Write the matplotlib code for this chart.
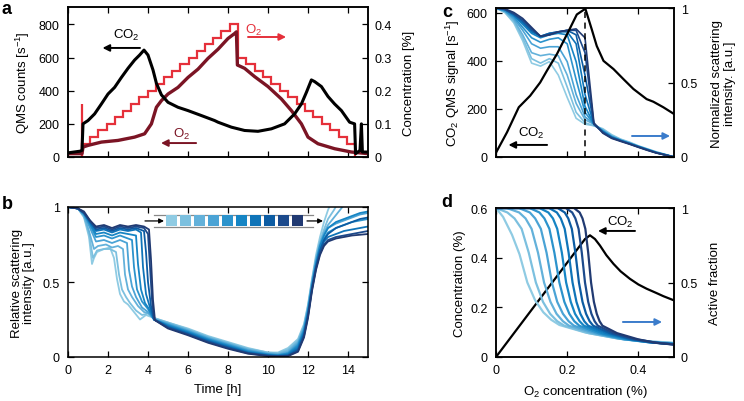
import matplotlib
matplotlib.use('Agg')
import matplotlib.pyplot as plt
from matplotlib.patches import Rectangle

plt.rcParams['font.family'] = ['Liberation Sans', 'DejaVu Sans']
plt.rcParams['mathtext.fontset'] = 'custom'
plt.rcParams['mathtext.rm'] = 'Liberation Sans'
plt.rcParams['mathtext.it'] = 'Liberation Sans:italic'
plt.rcParams['mathtext.bf'] = 'Liberation Sans:bold'
plt.rcParams['font.size'] = 9

# ---------------- data: panel a ----------------
t_co2 = [0, 0.3, 0.6, 0.7, 0.75, 1.0, 1.33, 1.67, 2.0, 2.33, 2.67, 3.0, 3.33, 3.58, 3.8, 4.0, 4.25,
         4.42, 4.67, 5.0, 5.5, 6.0, 6.67, 7.33, 7.5, 8.17, 8.83, 9.5, 10.17, 10.83, 11.33, 11.67,
         11.92, 12.17, 12.33, 12.67, 13.0, 13.33, 13.67, 14.08, 14.33, 14.38, 14.6, 14.67, 14.72, 15.0]
co2_counts = [25, 30, 35, 40, 200, 220, 260, 320, 380, 420, 480, 535, 585, 615, 645, 615, 525,
              445, 375, 330, 300, 280, 250, 220, 210, 180, 160, 155, 170, 200, 260, 320,
              390, 465, 455, 425, 365, 320, 280, 210, 200, 20, 40, 200, 30, 30]
t_o2m = [0, 0.7, 0.75, 1.0, 1.67, 2.5, 3.33, 3.83, 4.17, 4.42, 4.67, 5.0, 5.5, 6.0, 6.5, 7.0, 7.5,
         8.0, 8.33, 8.42, 8.47, 8.83, 9.33, 10.0, 10.67, 11.17, 11.67, 12.0, 12.5, 13.33, 14.17, 15.0]
o2_meas = [20, 20, 60, 70, 90, 100, 120, 140, 200, 300, 340, 380, 420, 480, 530, 595, 650,
           715, 745, 755, 555, 535, 485, 425, 350, 280, 200, 120, 80, 50, 30, 20]
o2_set_edges = [0.7, 1.11, 1.52, 1.93, 2.34, 2.75, 3.16, 3.57, 3.98, 4.39, 4.80, 5.21, 5.62, 6.03,
                6.44, 6.85, 7.26, 7.67, 8.08, 8.49, 8.91, 9.33, 9.75, 10.17, 10.59, 11.01, 11.43,
                11.85, 12.27, 12.69, 13.11, 13.53, 13.95, 14.37]
o2_set_levels = [0.04, 0.06, 0.08, 0.10, 0.12, 0.14, 0.16, 0.18, 0.20, 0.22, 0.24, 0.26, 0.28, 0.30,
                 0.32, 0.34, 0.36, 0.38, 0.40, 0.30, 0.28, 0.26, 0.24, 0.22, 0.20, 0.18, 0.16,
                 0.14, 0.12, 0.10, 0.08, 0.06, 0.04]
spike_t = 0.7
spike_level = 0.16

# ---------------- data: panel b ----------------
b_t = [
    [0, 0.5, 0.8, 1.05, 1.2, 1.3, 1.45, 1.8, 2.1, 2.3, 2.45, 2.6, 2.8, 3.0, 3.3, 3.6, 3.9, 4.1, 4.3, 5, 6, 7, 8, 9, 10, 10.5, 11, 11.5, 11.8, 12.0, 12.2, 12.4, 12.6, 12.8, 13.0, 13.2],
    [0, 0.5, 0.8, 1.05, 1.25, 1.45, 1.8, 2.1, 2.4, 2.55, 2.7, 2.9, 3.1, 3.4, 3.7, 4.0, 4.3, 5, 6, 7, 8, 9, 10, 10.5, 11, 11.5, 11.8, 12.0, 12.2, 12.4, 12.6, 12.8, 13.0, 13.3, 13.5],
    [0, 0.5, 0.8, 1.05, 1.3, 1.5, 1.9, 2.2, 2.5, 2.75, 2.85, 3.0, 3.2, 3.5, 3.8, 4.05, 4.3, 5, 6, 7, 8, 9, 10, 10.5, 11, 11.5, 11.8, 12.0, 12.2, 12.4, 12.6, 12.8, 13.0, 13.3, 13.6, 13.9],
    [0, 0.5, 0.8, 1.1, 1.4, 1.8, 2.2, 2.6, 2.95, 3.05, 3.2, 3.4, 3.7, 4.0, 4.3, 5, 6, 7, 8, 9, 10, 10.5, 11, 11.5, 11.8, 12.0, 12.2, 12.4, 12.6, 12.8, 13.0, 13.4, 13.8, 14.2, 14.6, 15],
    [0, 0.5, 0.8, 1.1, 1.4, 1.8, 2.2, 2.6, 3.0, 3.2, 3.3, 3.45, 3.7, 4.0, 4.3, 5, 6, 7, 8, 9, 10, 10.5, 11, 11.5, 11.8, 12.0, 12.2, 12.4, 12.6, 12.8, 13.0, 13.4, 13.8, 14.2, 14.6, 15],
    [0, 0.5, 0.8, 1.1, 1.4, 1.8, 2.2, 2.6, 3.0, 3.4, 3.5, 3.65, 3.85, 4.05, 4.3, 5, 6, 7, 8, 9, 10, 10.5, 11, 11.5, 11.8, 12.0, 12.2, 12.4, 12.6, 12.8, 13.0, 13.4, 13.8, 14.2, 14.6, 15],
    [0, 0.5, 0.8, 1.1, 1.4, 1.8, 2.2, 2.6, 3.0, 3.4, 3.65, 3.75, 3.9, 4.1, 4.3, 5, 6, 7, 8, 9, 10, 10.5, 11, 11.5, 11.8, 12.0, 12.2, 12.4, 12.6, 12.8, 13.0, 13.4, 13.8, 14.2, 14.6, 15],
    [0, 0.5, 0.8, 1.1, 1.4, 1.8, 2.2, 2.6, 3.0, 3.4, 3.8, 3.9, 4.0, 4.15, 4.3, 5, 6, 7, 8, 9, 10, 10.5, 11, 11.5, 11.8, 12.0, 12.2, 12.4, 12.6, 12.8, 13.0, 13.4, 13.8, 14.2, 14.6, 15],
    [0, 0.5, 0.8, 1.1, 1.4, 1.8, 2.2, 2.6, 3.0, 3.4, 3.8, 4.0, 4.1, 4.2, 4.3, 5, 6, 7, 8, 9, 10, 10.5, 11, 11.5, 11.8, 12.0, 12.2, 12.4, 12.6, 12.8, 13.0, 13.4, 13.8, 14.2, 14.6, 15],
    [0, 0.5, 0.8, 1.1, 1.4, 1.8, 2.2, 2.6, 3.0, 3.4, 3.8, 4.05, 4.15, 4.25, 4.35, 5, 6, 7, 8, 9, 10, 10.5, 11, 11.5, 11.8, 12.0, 12.2, 12.4, 12.6, 12.8, 13.0, 13.4, 13.8, 14.2, 14.6, 15],
]
b_v = [
    [1.0, 0.99, 0.93, 0.80, 0.62, 0.66, 0.70, 0.72, 0.73, 0.66, 0.52, 0.42, 0.37, 0.35, 0.30, 0.25, 0.28, 0.27, 0.26, 0.23, 0.19, 0.14, 0.10, 0.06, 0.03, 0.03, 0.06, 0.12, 0.22, 0.35, 0.52, 0.68, 0.80, 0.90, 0.98, 1.04],
    [1.0, 0.99, 0.94, 0.82, 0.66, 0.71, 0.72, 0.72, 0.70, 0.55, 0.45, 0.40, 0.36, 0.31, 0.28, 0.29, 0.26, 0.23, 0.185, 0.135, 0.095, 0.055, 0.03, 0.025, 0.05, 0.11, 0.21, 0.34, 0.51, 0.66, 0.77, 0.85, 0.92, 0.98, 1.03],
    [1.0, 0.99, 0.94, 0.84, 0.72, 0.74, 0.75, 0.73, 0.74, 0.72, 0.55, 0.45, 0.40, 0.34, 0.30, 0.29, 0.255, 0.225, 0.18, 0.13, 0.09, 0.05, 0.025, 0.02, 0.04, 0.10, 0.20, 0.33, 0.50, 0.65, 0.76, 0.83, 0.88, 0.93, 0.98, 1.03],
    [1.0, 0.99, 0.95, 0.86, 0.77, 0.78, 0.76, 0.78, 0.76, 0.58, 0.47, 0.40, 0.33, 0.30, 0.25, 0.22, 0.175, 0.125, 0.085, 0.045, 0.02, 0.015, 0.03, 0.09, 0.19, 0.32, 0.49, 0.64, 0.75, 0.82, 0.86, 0.89, 0.91, 0.93, 0.95, 0.96],
    [1.0, 0.99, 0.95, 0.88, 0.80, 0.81, 0.79, 0.81, 0.79, 0.78, 0.60, 0.45, 0.37, 0.32, 0.25, 0.215, 0.17, 0.12, 0.08, 0.04, 0.018, 0.012, 0.025, 0.08, 0.18, 0.31, 0.48, 0.62, 0.73, 0.79, 0.83, 0.86, 0.88, 0.90, 0.91, 0.92],
    [1.0, 0.99, 0.96, 0.89, 0.82, 0.83, 0.81, 0.83, 0.82, 0.81, 0.62, 0.45, 0.36, 0.32, 0.25, 0.21, 0.165, 0.115, 0.075, 0.035, 0.015, 0.01, 0.02, 0.07, 0.17, 0.30, 0.47, 0.62, 0.74, 0.81, 0.86, 0.90, 0.92, 0.94, 0.96, 0.97],
    [1.0, 0.99, 0.96, 0.90, 0.84, 0.85, 0.83, 0.85, 0.84, 0.85, 0.83, 0.60, 0.42, 0.33, 0.25, 0.205, 0.16, 0.11, 0.07, 0.03, 0.012, 0.008, 0.015, 0.06, 0.16, 0.29, 0.46, 0.60, 0.71, 0.77, 0.80, 0.82, 0.84, 0.85, 0.86, 0.87],
    [1.0, 0.99, 0.96, 0.90, 0.85, 0.86, 0.84, 0.86, 0.85, 0.86, 0.84, 0.70, 0.50, 0.34, 0.25, 0.20, 0.155, 0.105, 0.065, 0.028, 0.01, 0.006, 0.01, 0.05, 0.15, 0.28, 0.46, 0.60, 0.71, 0.78, 0.82, 0.86, 0.88, 0.90, 0.92, 0.93],
    [1.0, 0.99, 0.96, 0.91, 0.86, 0.87, 0.85, 0.87, 0.86, 0.87, 0.86, 0.82, 0.60, 0.38, 0.25, 0.195, 0.15, 0.10, 0.06, 0.025, 0.008, 0.005, 0.008, 0.04, 0.14, 0.27, 0.45, 0.59, 0.69, 0.75, 0.78, 0.80, 0.81, 0.82, 0.83, 0.84],
    [1.0, 0.99, 0.97, 0.91, 0.87, 0.88, 0.86, 0.88, 0.87, 0.88, 0.87, 0.85, 0.65, 0.38, 0.245, 0.19, 0.145, 0.095, 0.055, 0.022, 0.006, 0.004, 0.006, 0.035, 0.13, 0.26, 0.44, 0.58, 0.68, 0.74, 0.77, 0.79, 0.80, 0.81, 0.815, 0.82],
]
blues = ['#8fcbe3', '#7cc0df', '#63b1da', '#4aa3d5', '#2c93cc', '#1685c4', '#0f74b8', '#0c5ca3',
         '#1c4a8c', '#213a72']

# ---------------- data: panel c ----------------
c_o2 = [0.0, 0.025, 0.05, 0.075, 0.1, 0.125, 0.15, 0.175, 0.2, 0.225, 0.25, 0.275, 0.3, 0.325,
        0.35, 0.375, 0.4, 0.425, 0.45, 0.475, 0.5]
c_norm = [
    [1.0, 0.97, 0.90, 0.78, 0.63, 0.61, 0.64, 0.55, 0.40, 0.26, 0.22, 0.21, 0.19, 0.15, 0.12, 0.10, 0.075, 0.055, 0.035, 0.018, 0.0],
    [1.0, 0.97, 0.91, 0.80, 0.66, 0.63, 0.66, 0.63, 0.47, 0.30, 0.23, 0.21, 0.185, 0.145, 0.118, 0.097, 0.073, 0.053, 0.033, 0.017, 0.0],
    [1.0, 0.98, 0.92, 0.82, 0.70, 0.68, 0.69, 0.68, 0.55, 0.36, 0.25, 0.22, 0.18, 0.14, 0.115, 0.095, 0.072, 0.052, 0.032, 0.016, 0.0],
    [1.0, 0.98, 0.93, 0.85, 0.76, 0.73, 0.74, 0.74, 0.64, 0.42, 0.27, 0.22, 0.178, 0.138, 0.113, 0.093, 0.071, 0.051, 0.031, 0.016, 0.0],
    [1.0, 0.98, 0.94, 0.87, 0.80, 0.77, 0.79, 0.80, 0.76, 0.52, 0.30, 0.22, 0.175, 0.136, 0.112, 0.092, 0.07, 0.05, 0.03, 0.015, 0.0],
    [1.0, 0.99, 0.95, 0.89, 0.83, 0.80, 0.82, 0.83, 0.82, 0.64, 0.34, 0.22, 0.172, 0.134, 0.111, 0.091, 0.07, 0.05, 0.03, 0.015, 0.0],
    [1.0, 0.99, 0.95, 0.90, 0.84, 0.81, 0.83, 0.84, 0.84, 0.76, 0.42, 0.22, 0.17, 0.132, 0.11, 0.09, 0.069, 0.049, 0.029, 0.015, 0.0],
    [1.0, 0.99, 0.96, 0.91, 0.85, 0.81, 0.83, 0.84, 0.85, 0.82, 0.55, 0.22, 0.168, 0.13, 0.109, 0.089, 0.068, 0.048, 0.029, 0.014, 0.0],
    [1.0, 0.99, 0.96, 0.92, 0.86, 0.81, 0.82, 0.84, 0.85, 0.85, 0.70, 0.22, 0.165, 0.128, 0.108, 0.088, 0.067, 0.047, 0.028, 0.014, 0.0],
    [1.0, 0.995, 0.97, 0.93, 0.87, 0.81, 0.82, 0.84, 0.85, 0.86, 0.80, 0.23, 0.16, 0.125, 0.105, 0.086, 0.065, 0.045, 0.027, 0.013, 0.0],
]
c_co2_x = [0.0, 0.031, 0.064, 0.096, 0.124, 0.143, 0.171, 0.204, 0.227, 0.251, 0.269, 0.283, 0.302,
           0.33, 0.358, 0.386, 0.423, 0.442, 0.47, 0.5]
c_co2_y = [18, 103, 207, 255, 310, 359, 428, 524, 593, 617, 531, 462, 400, 366, 324, 283, 241, 230,
           207, 179]
c_peak_o2 = 0.251

# ---------------- data: panel d ----------------
d_x = [
    [0, 0.02, 0.045, 0.066, 0.088, 0.11, 0.133, 0.155, 0.178, 0.25, 0.34, 0.42, 0.5],
    [0, 0.032, 0.052, 0.072, 0.092, 0.112, 0.132, 0.152, 0.172, 0.192, 0.26, 0.345, 0.42, 0.5],
    [0, 0.03, 0.065, 0.083, 0.1, 0.118, 0.135, 0.153, 0.17, 0.188, 0.205, 0.27, 0.35, 0.42, 0.5],
    [0, 0.064, 0.095, 0.11, 0.126, 0.142, 0.157, 0.172, 0.188, 0.204, 0.219, 0.28, 0.355, 0.425, 0.5],
    [0, 0.094, 0.122, 0.136, 0.15, 0.164, 0.178, 0.192, 0.206, 0.22, 0.234, 0.29, 0.36, 0.43, 0.5],
    [0, 0.122, 0.147, 0.16, 0.172, 0.185, 0.197, 0.21, 0.222, 0.235, 0.247, 0.3, 0.37, 0.43, 0.5],
    [0, 0.149, 0.171, 0.182, 0.193, 0.204, 0.215, 0.226, 0.237, 0.248, 0.259, 0.31, 0.375, 0.44, 0.5],
    [0, 0.173, 0.193, 0.203, 0.213, 0.223, 0.233, 0.243, 0.253, 0.263, 0.273, 0.32, 0.38, 0.44, 0.5],
    [0, 0.196, 0.214, 0.223, 0.232, 0.241, 0.25, 0.259, 0.268, 0.277, 0.286, 0.33, 0.39, 0.45, 0.5],
    [0, 0.219, 0.235, 0.243, 0.251, 0.259, 0.267, 0.275, 0.283, 0.291, 0.299, 0.34, 0.4, 0.45, 0.5],
]
d_f = [
    [1.0, 0.94, 0.82, 0.69, 0.50, 0.38, 0.30, 0.25, 0.215, 0.165, 0.125, 0.107, 0.095],
    [1.0, 0.97, 0.93, 0.86, 0.70, 0.50, 0.37, 0.29, 0.24, 0.21, 0.16, 0.123, 0.105, 0.093],
    [1.0, 1.0, 0.97, 0.93, 0.86, 0.70, 0.50, 0.37, 0.29, 0.24, 0.21, 0.16, 0.122, 0.103, 0.092],
    [1.0, 1.0, 0.97, 0.93, 0.86, 0.70, 0.50, 0.37, 0.29, 0.24, 0.21, 0.16, 0.12, 0.10, 0.09],
    [1.0, 1.0, 0.97, 0.93, 0.86, 0.70, 0.50, 0.37, 0.29, 0.24, 0.21, 0.158, 0.12, 0.099, 0.088],
    [1.0, 1.0, 0.97, 0.93, 0.86, 0.70, 0.50, 0.37, 0.29, 0.24, 0.21, 0.158, 0.12, 0.099, 0.087],
    [1.0, 1.0, 0.97, 0.93, 0.86, 0.70, 0.50, 0.37, 0.29, 0.24, 0.21, 0.16, 0.12, 0.098, 0.086],
    [1.0, 1.0, 0.97, 0.93, 0.86, 0.70, 0.50, 0.37, 0.29, 0.24, 0.21, 0.16, 0.12, 0.097, 0.085],
    [1.0, 1.0, 0.97, 0.93, 0.86, 0.70, 0.50, 0.37, 0.29, 0.24, 0.21, 0.16, 0.12, 0.096, 0.084],
    [1.0, 1.0, 0.97, 0.93, 0.86, 0.70, 0.50, 0.37, 0.29, 0.24, 0.21, 0.16, 0.118, 0.095, 0.083],
]
d_co2_x = [0.0, 0.25, 0.264, 0.278, 0.292, 0.31, 0.33, 0.35, 0.376, 0.4, 0.423, 0.45, 0.47, 0.5]
d_co2_y = [0.0, 0.475, 0.49, 0.475, 0.449, 0.41, 0.375, 0.345, 0.315, 0.292, 0.275, 0.258, 0.245, 0.228]

# ---------------- styling ----------------
BLACK = '#000000'
RED = '#e5303a'
DARKRED = '#7b1424'
ARROWBLUE = '#3b7ccb'
SPW = 1.1


def style(ax, top=True, right=True, side='left'):
    for s in ax.spines.values():
        s.set_linewidth(SPW)
    ax.tick_params(direction='in', length=4, width=0.9, top=top, right=right, labelsize=9)
    ax.tick_params(axis='x', pad=5)
    ax.tick_params(axis='y', pad=6 if side == 'left' else 5)


def arrow(ax, x0, x1, y, color, lw=1.4, ms=10):
    ax.annotate('', xy=(x1, y), xytext=(x0, y), xycoords='axes fraction', textcoords='axes fraction',
                arrowprops=dict(arrowstyle='-|>', color=color, lw=lw, mutation_scale=ms,
                                shrinkA=0, shrinkB=0))


fig = plt.figure(figsize=(7.44, 4.02), dpi=100)
W, H = 744.0, 402.0


def axpos(x0, y0, x1, y1):
    return [x0 / W, 1 - y1 / H, (x1 - x0) / W, (y1 - y0) / H]


# ---------------- panel a ----------------
ax_a = fig.add_axes(axpos(68, 8, 368, 158))
ax_a2 = ax_a.twinx()
ax_a.set_zorder(ax_a2.get_zorder() + 1)
ax_a.patch.set_visible(False)
ax_a2.stairs(o2_set_levels, o2_set_edges, baseline=0, color=RED, lw=1.6)
ax_a2.vlines(spike_t, 0, spike_level, color=RED, lw=1.6)
ax_a.plot(t_o2m, o2_meas, color=DARKRED, lw=2.4, solid_joinstyle='round')
ax_a.plot(t_co2, co2_counts, color=BLACK, lw=2.2, solid_joinstyle='round')
ax_a.set_xlim(0, 15)
ax_a.set_ylim(0, 905)
ax_a2.set_ylim(0, 0.4525)
ax_a.set_xticks(range(0, 15, 2))
ax_a.set_xticklabels([])
ax_a.set_yticks([0, 200, 400, 600, 800])
ax_a2.set_yticks([0, 0.1, 0.2, 0.3, 0.4])
ax_a2.set_yticklabels(['0', '0.1', '0.2', '0.3', '0.4'])
style(ax_a, top=True, right=False)
style(ax_a2, top=False, right=True, side='right')
ax_a.set_ylabel('QMS counts [s$^{-1}$]', fontsize=9.5, labelpad=5)
ax_a2.set_ylabel('Concentration [%]', fontsize=9.5, labelpad=8)
ax_a.text(0.193, 0.82, 'CO$_2$', transform=ax_a.transAxes, ha='center', va='center', fontsize=9.5)
arrow(ax_a, 0.24, 0.115, 0.727, BLACK)
ax_a.text(0.377, 0.16, 'O$_2$', transform=ax_a.transAxes, ha='center', va='center', fontsize=9.5, color=DARKRED)
arrow(ax_a, 0.427, 0.31, 0.093, DARKRED)
ax_a.text(0.617, 0.853, 'O$_2$', transform=ax_a.transAxes, ha='center', va='center', fontsize=9.5, color=RED)
arrow(ax_a, 0.6, 0.727, 0.8, RED)

# ---------------- panel b ----------------
ax_b = fig.add_axes(axpos(68, 208, 368, 358))
for i in range(len(b_t)):
    ax_b.plot(b_t[i], b_v[i], color=blues[i], lw=1.3, zorder=2 + i * 0.01)
ax_b.set_xlim(0, 15)
ax_b.set_ylim(0, 1)
ax_b.set_xticks(range(0, 15, 2))
ax_b.set_yticks([0, 0.5, 1])
ax_b.set_yticklabels(['0', '0.5', '1'])
style(ax_b)
ax_b.set_xlabel('Time [h]', fontsize=9.5, labelpad=5)
ax_b.set_ylabel('Relative scattering\nintensity [a.u.]', fontsize=9.5, labelpad=5, linespacing=1.1)
# colour strip
bx0, bx1 = (154 - 68) / 300, (313 - 68) / 300
ax_b.plot([bx0, bx1], [0.947, 0.947], transform=ax_b.transAxes, color='#888888', lw=0.9)
ax_b.plot([bx0, bx1], [0.867, 0.867], transform=ax_b.transAxes, color='#888888', lw=0.9)
arrow(ax_b, (145 - 68) / 300, (164 - 68) / 300, 0.907, BLACK, lw=0.9, ms=7)
arrow(ax_b, (307 - 68) / 300, (323 - 68) / 300, 0.907, BLACK, lw=0.9, ms=7)
sq_w = 11 / 300
sq_h = 11 / 150
for i, c in enumerate(blues):
    x0 = (166 - 68 + 14 * i) / 300
    ax_b.add_patch(Rectangle((x0, 0.907 - sq_h / 2), sq_w, sq_h, transform=ax_b.transAxes,
                             facecolor=c, edgecolor='none', zorder=5))

# ---------------- panel c ----------------
ax_c = fig.add_axes(axpos(496, 9, 674, 158))
ax_c2 = ax_c.twinx()
ax_c.set_zorder(ax_c2.get_zorder() + 1)
ax_c.patch.set_visible(False)
for i in range(len(c_norm)):
    ax_c2.plot(c_o2, c_norm[i], color=blues[i], lw=1.2)
ax_c.plot(c_co2_x, c_co2_y, color=BLACK, lw=1.6)
ax_c.axvline(c_peak_o2, color=BLACK, lw=1.1, ls=(0, (4, 3)))
ax_c.set_xlim(0, 0.5)
ax_c.set_ylim(0, 620)
ax_c2.set_ylim(0, 1)
ax_c.set_xticks([0, 0.2, 0.4])
ax_c.set_xticklabels([])
ax_c.set_yticks([0, 200, 400, 600])
ax_c2.set_yticks([0, 0.5, 1])
ax_c2.set_yticklabels(['0', '0.5', '1'])
style(ax_c, top=True, right=False)
style(ax_c2, top=False, right=True, side='right')
ax_c.set_ylabel('CO$_2$ QMS signal [s$^{-1}$]', fontsize=9.5, labelpad=3)
ax_c2.set_ylabel('Normalized scattering\nintensity. [a.u.]', fontsize=9.5, labelpad=9, linespacing=1.1)
ax_c.text(0.2, 0.168, 'CO$_2$', transform=ax_c.transAxes, ha='center', va='center', fontsize=9.5)
arrow(ax_c, 0.287, 0.07, 0.081, BLACK)
arrow(ax_c, 0.764, 0.978, 0.141, ARROWBLUE)

# ---------------- panel d ----------------
ax_d = fig.add_axes(axpos(496, 209, 674, 358))
ax_d2 = ax_d.twinx()
ax_d.plot(d_co2_x, d_co2_y, color=BLACK, lw=1.6)
for i in range(len(d_x)):
    ax_d2.plot(d_x[i], d_f[i], color=blues[i], lw=1.6)
ax_d.set_xlim(0, 0.5)
ax_d.set_ylim(0, 0.6)
ax_d2.set_ylim(0, 1)
ax_d.set_xticks([0, 0.2, 0.4])
ax_d.set_xticklabels(['0', '0.2', '0.4'])
ax_d.set_yticks([0, 0.2, 0.4, 0.6])
ax_d.set_yticklabels(['0', '0.2', '0.4', '0.6'])
ax_d2.set_yticks([0, 0.5, 1])
ax_d2.set_yticklabels(['0', '0.5', '1'])
style(ax_d, top=True, right=False)
style(ax_d2, top=False, right=True, side='right')
ax_d.set_ylabel('Concentration (%)', fontsize=9.5, labelpad=3)
ax_d2.set_ylabel('Active fraction', fontsize=9.5, labelpad=8)
ax_d.set_xlabel('O$_2$ concentration (%)', fontsize=9.5, labelpad=5)
ax_d2.text(0.697, 0.913, 'CO$_2$', transform=ax_d2.transAxes, ha='center', va='center', fontsize=9.5)
arrow(ax_d2, 0.781, 0.573, 0.846, BLACK)
arrow(ax_d2, 0.713, 0.933, 0.235, ARROWBLUE)

# panel letters
for lab, x, y in [('a', 2, 1), ('b', 2, 196), ('c', 442, 4), ('d', 441, 194)]:
    fig.text(x / W, 1 - y / H, lab, fontsize=13, fontweight='bold', ha='left', va='top')

fig.savefig('out.png', dpi=100)
